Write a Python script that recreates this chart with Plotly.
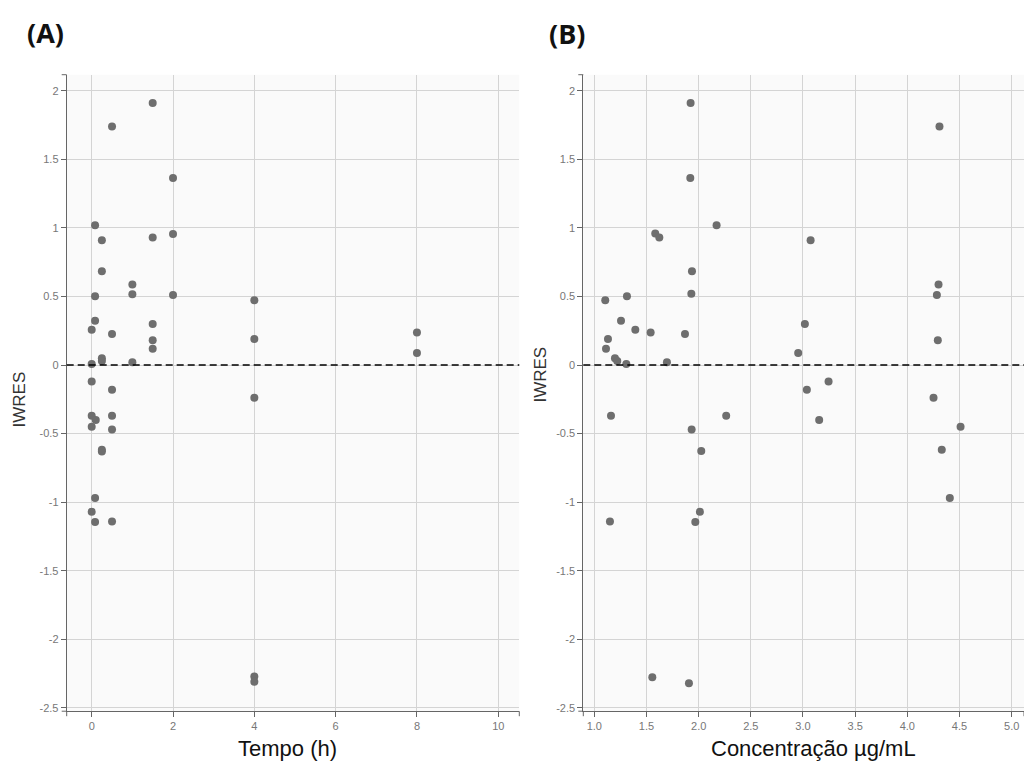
import plotly.graph_objects as go

# ---- data ----
tempo_h = [1.5, 0.5, 2, 0.083, 2, 1.5, 0.25, 0.25, 1, 1, 2, 0.083, 4, 0.083,
           1.5, 0, 8, 0.5, 4, 1.5, 1.5, 8, 0.25, 0.25, 1, 0, 0, 0.5, 4, 0,
           0.5, 0.1, 0, 0.5, 0.25, 0.25, 0.083, 0, 0.5, 0.083, 4, 4]
iwres_a = [1.91, 1.74, 1.364, 1.02, 0.956, 0.93, 0.91, 0.684, 0.587, 0.517, 0.51,
           0.502, 0.473, 0.323, 0.30, 0.257, 0.238, 0.226, 0.19, 0.18, 0.119, 0.087,
           0.05, 0.03, 0.02, 0.007, -0.12, -0.18, -0.238, -0.37, -0.37, -0.40, -0.45,
           -0.47, -0.617, -0.63, -0.97, -1.07, -1.14, -1.145, -2.27, -2.31]

conc_ugml = [1.923, 1.92, 2.172, 1.584, 1.623, 1.936, 1.93, 1.105, 1.313, 1.256,
             1.393, 1.54, 1.869, 1.131, 1.112, 1.198, 1.22, 1.307, 1.696, 1.16,
             2.264, 1.933, 2.025, 2.012, 1.968, 1.15, 1.556, 1.907, 4.308, 3.073,
             4.299, 4.283, 3.018, 4.292, 2.954, 3.245, 3.037, 4.251, 3.155, 4.51,
             4.33, 4.407]
iwres_b = [1.91, 1.364, 1.02, 0.96, 0.93, 0.684, 0.519, 0.473, 0.502, 0.323,
           0.257, 0.238, 0.226, 0.19, 0.119, 0.05, 0.03, 0.007, 0.02, -0.37,
           -0.37, -0.47, -0.626, -1.07, -1.145, -1.14, -2.276, -2.32, 1.74, 0.91,
           0.587, 0.51, 0.30, 0.18, 0.087, -0.12, -0.18, -0.238, -0.40, -0.45,
           -0.617, -0.97]

y_tickvals = [2, 1.5, 1, 0.5, 0, -0.5, -1, -1.5, -2, -2.5]
y_ticktext = ["2", "1.5", "1", "0.5", "0", "-0.5", "-1", "-1.5", "-2", "-2.5"]
xa_tickvals = [0, 2, 4, 6, 8, 10]
xa_ticktext = ["0", "2", "4", "6", "8", "10"]
xb_tickvals = [1.0, 1.5, 2.0, 2.5, 3.0, 3.5, 4.0, 4.5, 5.0]
xb_ticktext = ["1.0", "1.5", "2.0", "2.5", "3.0", "3.5", "4.0", "4.5", "5.0"]

panel_labels = ["(A)", "(B)"]
x_titles = ["Tempo (h)", "Concentração µg/mL"]
y_title = "IWRES"

# ---- figure ----
W, H = 1024, 767
MARK = "#6e6e6e"
GRID = "#d4d4d4"
AXC = "#666666"
TICKF = dict(family="Liberation Sans, Arial, sans-serif", size=11, color="#777777")

fig = go.Figure()
fig.add_trace(go.Scatter(x=tempo_h, y=iwres_a, mode="markers", xaxis="x", yaxis="y",
                         marker=dict(size=8, color=MARK), showlegend=False))
fig.add_trace(go.Scatter(x=conc_ugml, y=iwres_b, mode="markers", xaxis="x2", yaxis="y2",
                         marker=dict(size=8, color=MARK), showlegend=False))

ydom = [(H - 714) / H, (H - 75) / H]
common_ax = dict(showgrid=True, gridcolor=GRID, gridwidth=1, zeroline=False,
                 showline=True, linecolor=AXC, linewidth=1, ticks="outside",
                 ticklen=5, tickcolor=AXC, tickfont=TICKF, fixedrange=True)

fig.update_layout(
    width=W, height=H, margin=dict(l=0, r=0, t=0, b=0),
    paper_bgcolor="white", plot_bgcolor="#fafafa",
    xaxis=dict(domain=[66.7 / W, 519.3 / W], range=[-0.615, 10.517], anchor="y",
               tickmode="array", tickvals=xa_tickvals, ticktext=xa_ticktext, **common_ax),
    yaxis=dict(domain=ydom, range=[-2.524, 2.117], anchor="x",
               tickmode="array", tickvals=y_tickvals, ticktext=y_ticktext, **common_ax),
    xaxis2=dict(domain=[583.3 / W, 1.0], range=[0.8946, 5.118], anchor="y2",
                tickmode="array", tickvals=xb_tickvals, ticktext=xb_ticktext, **common_ax),
    yaxis2=dict(domain=ydom, range=[-2.524, 2.117], anchor="x2",
                tickmode="array", tickvals=y_tickvals, ticktext=y_ticktext, **common_ax),
)

shapes = []
for xr, yr in (("x", "y"), ("x2", "y2")):
    # dashed reference line at IWRES = 0
    shapes.append(dict(type="line", xref=f"{xr} domain", yref=yr, x0=0, x1=1, y0=0, y1=0,
                       line=dict(color="black", width=1.5, dash="7px,4px")))
    # outer ticks at axis ends
    for yd in (0, 1):
        shapes.append(dict(type="line", xref=f"{xr} domain", yref=f"{yr} domain",
                           xsizemode="pixel", xanchor=0, x0=-5, x1=0, y0=yd, y1=yd,
                           line=dict(color=AXC, width=1)))
    for xd in (0, 1):
        shapes.append(dict(type="line", xref=f"{xr} domain", yref=f"{yr} domain",
                           ysizemode="pixel", yanchor=0, y0=-5, y1=0, x0=xd, x1=xd,
                           line=dict(color=AXC, width=1)))
fig.update_layout(shapes=shapes)

LAB = dict(family="Open Sans, Liberation Sans, sans-serif", size=27, color="#111111")
TIT = dict(family="Liberation Sans, Arial, sans-serif", size=22, color="#111111")
YT = dict(family="Liberation Sans, Arial, sans-serif", size=17, color="#333333")

ann = [
    dict(text=f"<b>{panel_labels[0]}</b>", x=45 / W, y=1 - 33 / H, font=LAB),
    dict(text=f"<b>{panel_labels[1]}</b>", x=567 / W, y=1 - 34 / H, font=LAB),
    dict(text=x_titles[0], x=287 / W, y=1 - 751 / H, font=TIT),
    dict(text=x_titles[1], x=813 / W, y=1 - 751 / H, font=TIT),
    dict(text=y_title, x=19 / W, y=1 - 401 / H, textangle=-90, font=YT),
    dict(text=y_title, x=541 / W, y=1 - 376 / H, textangle=-90, font=YT),
]
for a in ann:
    a.update(xref="paper", yref="paper", showarrow=False, xanchor="center", yanchor="middle")
fig.update_layout(annotations=ann)

fig.write_html("out.html", config={"displayModeBar": False})
